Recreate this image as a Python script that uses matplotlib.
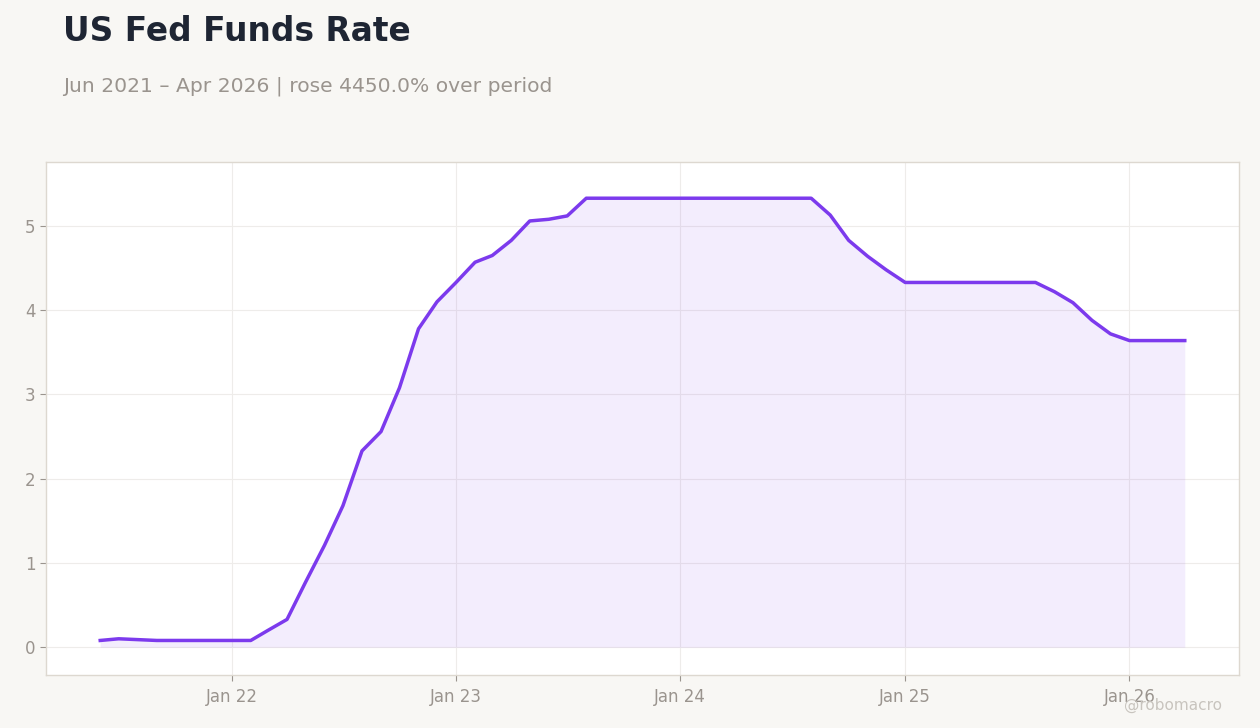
import matplotlib
matplotlib.use("Agg")
import matplotlib.pyplot as plt
import matplotlib.dates as mdates
import pandas as pd

# ---- data ----
start_month = "2021-06-01"
rate_2021 = [0.08, 0.10, 0.09, 0.08, 0.08, 0.08, 0.08]  # Jun-Dec
rate_2022 = [0.08, 0.08, 0.20, 0.33, 0.77, 1.21, 1.68, 2.33, 2.56, 3.08, 3.78, 4.10]
rate_2023 = [4.33, 4.57, 4.65, 4.83, 5.06, 5.08, 5.12, 5.33, 5.33, 5.33, 5.33, 5.33]
rate_2024 = [5.33, 5.33, 5.33, 5.33, 5.33, 5.33, 5.33, 5.33, 5.13, 4.83, 4.64, 4.48]
rate_2025 = [4.33, 4.33, 4.33, 4.33, 4.33, 4.33, 4.33, 4.33, 4.22, 4.09, 3.88, 3.72]
rate_2026 = [3.64, 3.64, 3.64, 3.64]  # Jan-Apr
values = rate_2021 + rate_2022 + rate_2023 + rate_2024 + rate_2025 + rate_2026
dates = pd.date_range(start_month, periods=len(values), freq="MS")

title = "US Fed Funds Rate"
subtitle = "Jun 2021 \u2013 Apr 2026 | rose 4450.0% over period"
watermark = "@robomacro"
y_ticks = [0, 1, 2, 3, 4, 5]

# ---- style ----
bg = "#f8f7f4"
purple = "#7c3aed"
tick_col = "#9a948e"
spine_col = "#ddd8d0"
grid_col = "#eeecea"

fig = plt.figure(figsize=(12.6, 7.28), dpi=100, facecolor=bg)
ax = fig.add_axes([46 / 1260, 1 - 675 / 728, (1239 - 46) / 1260, (675 - 162) / 728])
ax.set_facecolor("white")

ax.fill_between(dates, values, 0, color=purple, alpha=0.09, linewidth=0)
ax.plot(dates, values, color=purple, linewidth=2.5, solid_joinstyle="round")

ax.set_ylim(-0.33, 5.76)
ax.set_yticks(y_ticks)
ax.xaxis.set_major_locator(mdates.YearLocator())
ax.xaxis.set_major_formatter(mdates.DateFormatter("%b %y"))

ax.grid(True, color=grid_col, linewidth=0.8)
ax.set_axisbelow(True)
for s in ax.spines.values():
    s.set_color(spine_col)
    s.set_linewidth(1.0)
ax.tick_params(axis="both", colors=tick_col, labelsize=12, length=4, width=0.8)
ax.tick_params(axis="x", pad=5)

fig.text(63 / 1260, 1 - 41 / 728, title, fontsize=23.7, fontweight="bold",
         color="#1e2533", ha="left", va="baseline")
fig.text(63 / 1260, 1 - 92 / 728, subtitle, fontsize=14.6, color="#9a948e",
         ha="left", va="baseline")
fig.text(1222 / 1260, 1 - 710 / 728, watermark, fontsize=11, color="#c8c4be",
         ha="right", va="baseline")

fig.savefig("out.png", dpi=100, facecolor=bg)
